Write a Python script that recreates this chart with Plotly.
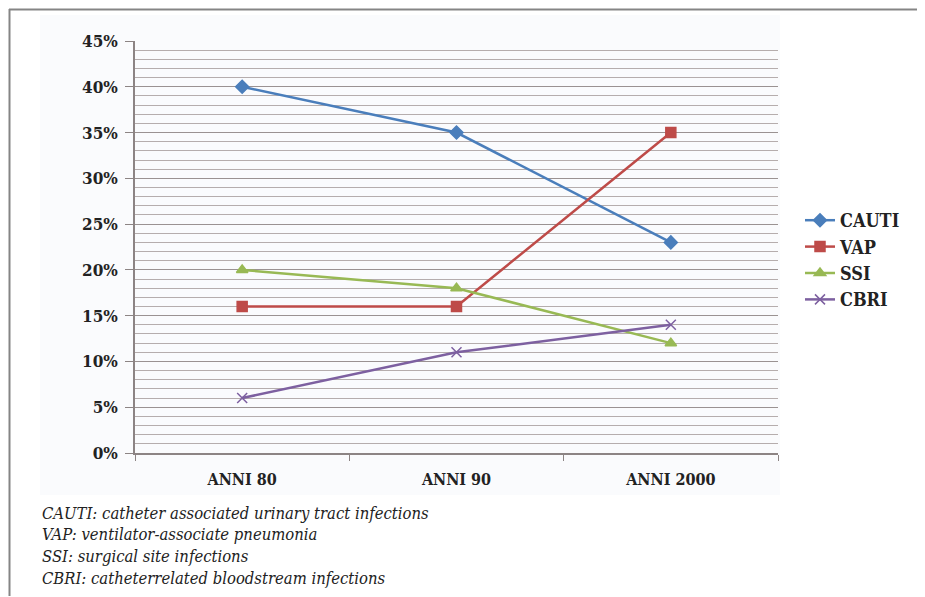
import plotly.graph_objects as go

categories = ["ANNI 80", "ANNI 90", "ANNI 2000"]
cauti = [0.40, 0.35, 0.23]
vap = [0.16, 0.16, 0.35]
ssi = [0.20, 0.18, 0.12]
cbri = [0.06, 0.11, 0.14]
series_names = ["CAUTI", "VAP", "SSI", "CBRI"]
footnotes = [
    "CAUTI: catheter associated urinary tract infections",
    "VAP: ventilator-associate pneumonia",
    "SSI: surgical site infections",
    "CBRI: catheterrelated bloodstream infections",
]

OFF = 8  # page body margin
W, H = 925, 597
L, R, T, B = 135 - OFF, 778 - OFF, 41 - OFF, 453 - OFF
SERIF = "DejaVu Serif"
SERIF_C = "DejaVu Serif Condensed, DejaVu Serif"

colors = ["#4a7ebb", "#be4b48", "#98b954", "#7d60a0"]
symbols = ["diamond", "square", "triangle-up", "x-thin-open"]

fig = go.Figure()
for name, vals, c, s in zip(series_names, [cauti, vap, ssi, cbri], colors, symbols):
    fig.add_trace(go.Scatter(
        x=categories, y=vals, name=name, mode="lines+markers",
        line=dict(color=c, width=2.5),
        marker=dict(symbol=s, size=10, color=c, line=dict(color=c, width=1.5)),
    ))

def px_x(v):
    return (v - OFF - L) / (R - L)

def px_y(v):
    return (B - (v - OFF)) / (B - T)

shapes = [
    dict(type="rect", xref="paper", yref="paper", x0=px_x(40), x1=px_x(780), y0=px_y(495), y1=px_y(15),
         fillcolor="#fafbfd", line=dict(width=0), layer="below"),
    dict(type="line", xref="paper", yref="paper", x0=px_x(9), x1=px_x(940), y0=px_y(9.5), y1=px_y(9.5),
         line=dict(color="#858585", width=2)),
    dict(type="line", xref="paper", yref="paper", x0=px_x(9.5), x1=px_x(9.5), y0=px_y(9), y1=px_y(596),
         line=dict(color="#858585", width=2)),
]

annotations = []
for i, t in enumerate(footnotes):
    annotations.append(dict(
        text=t, xref="paper", yref="paper", x=px_x(40), y=px_y(513 + i * 21.7),
        xanchor="left", yanchor="middle", showarrow=False,
        font=dict(family=SERIF_C, size=16.5, color="#222222", style="italic"),
    ))

fig.update_layout(
    width=W, height=H,
    margin=dict(l=L, r=W - R, t=T, b=H - B),
    paper_bgcolor="white", plot_bgcolor="rgba(0,0,0,0)",
    showlegend=True,
    legend=dict(x=px_x(800), y=px_y(260), xanchor="left", yanchor="middle",
                font=dict(family=SERIF_C, size=18, color="#222222", weight="bold"),
                bgcolor="rgba(0,0,0,0)", itemwidth=30, tracegroupgap=0),
    shapes=shapes, annotations=annotations,
    font=dict(family=SERIF, color="#222222"),
)
fig.update_xaxes(
    type="category", range=[-0.5, 2.5], showgrid=False,
    showline=True, linecolor="#8c8484", linewidth=1.5,
    ticks="outside", tickson="boundaries", ticklen=6, tickcolor="#8c8484",
    tickfont=dict(family=SERIF_C, size=16, color="#222222", weight="bold"),
    ticklabelstandoff=11,
)
fig.update_yaxes(
    range=[0, 0.45], dtick=0.05, tickformat=".0%",
    showgrid=True, gridcolor="#9a9292", gridwidth=1.3,
    minor=dict(dtick=0.01, showgrid=True, gridcolor="#b5adad", gridwidth=1),
    showline=True, linecolor="#8c8484", linewidth=1.5,
    ticks="outside", ticklen=8, tickcolor="#8c8484",
    tickfont=dict(family=SERIF_C, size=17, color="#222222", weight="bold"),
    ticklabelstandoff=4,
    zeroline=False,
)

fig.write_html("out.html")
